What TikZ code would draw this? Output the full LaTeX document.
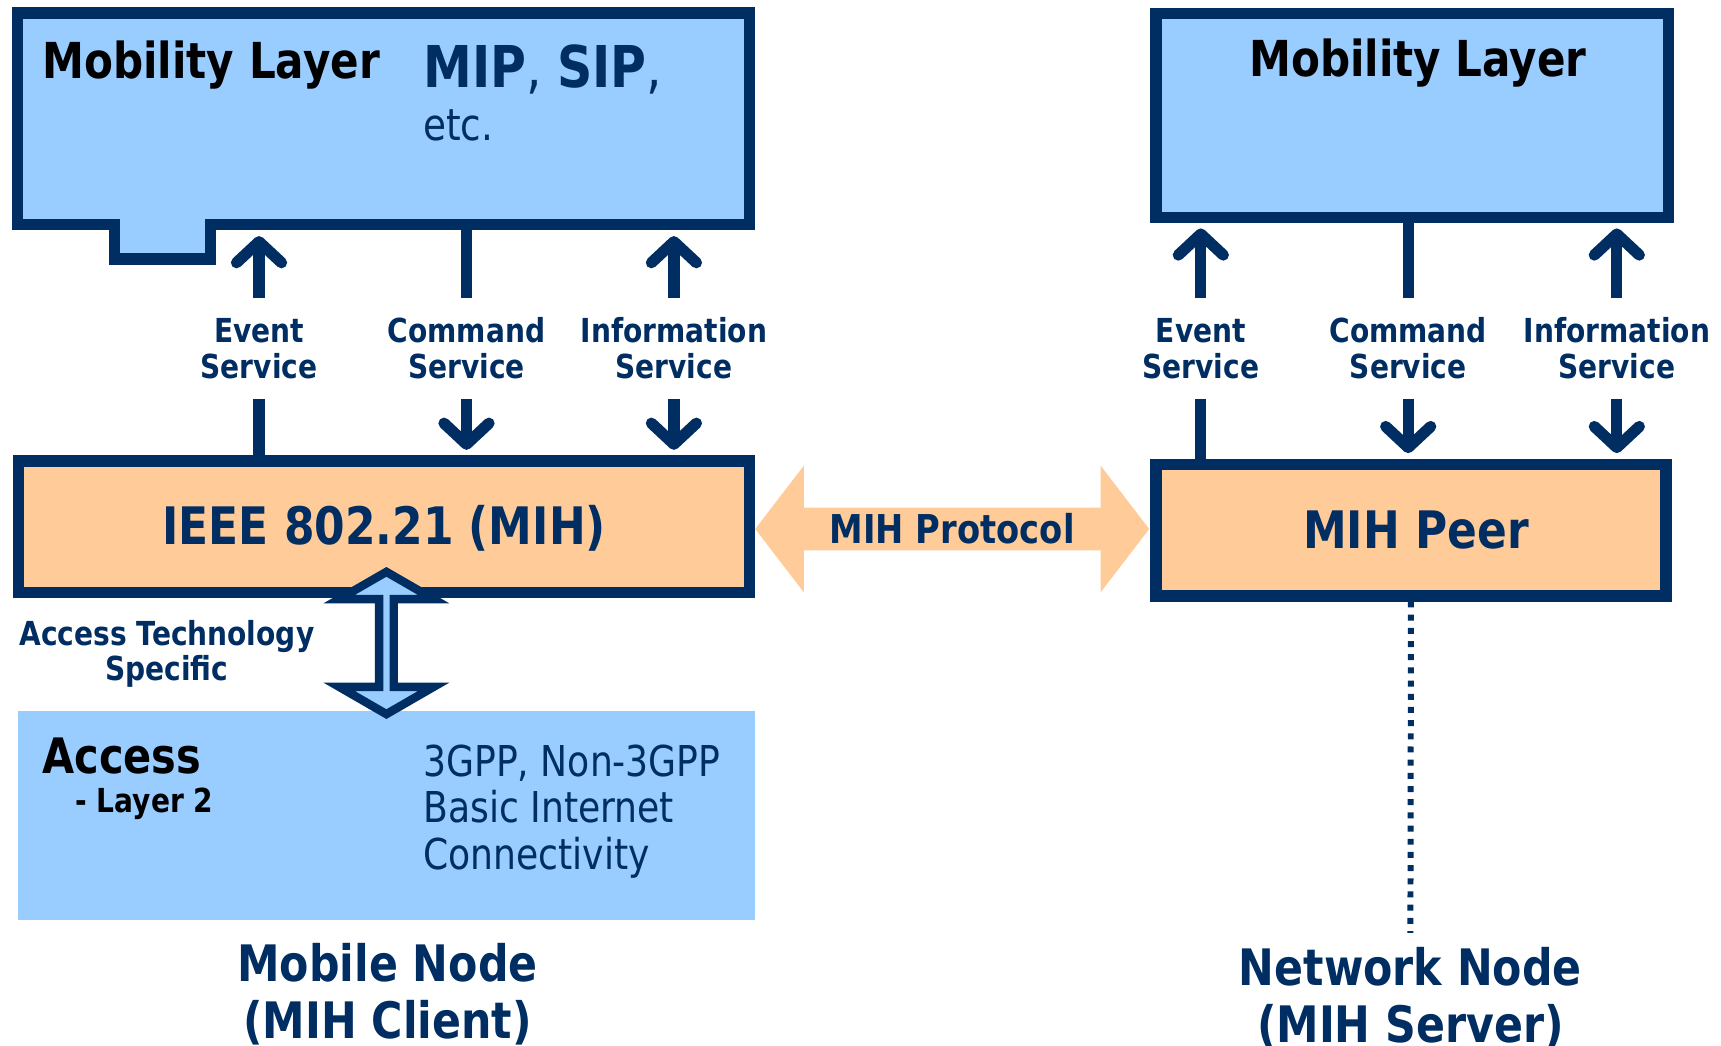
\documentclass[tikz,border=0pt]{standalone}
\usepackage{fontspec}
\setmainfont{DejaVu Sans}[FakeStretch=0.85]
\definecolor{mihnavy}{RGB}{0,45,98}
\definecolor{layerblue}{RGB}{153,204,255}
\definecolor{mihpeach}{RGB}{255,204,153}
\usetikzlibrary{arrows.meta,positioning,shapes.arrows}

\begin{document}
\begin{tikzpicture}[
      layerbox/.style={draw=mihnavy, line width=3.2pt, fill=layerblue, inner sep=0pt},
      mihbox/.style={draw=mihnavy, line width=3.2pt, fill=mihpeach, inner sep=0pt,
                     text=mihnavy, font=\fontsize{14.7}{17}\selectfont\bfseries},
      svc/.style={text=mihnavy, align=center, inner sep=0pt, minimum height=0.988cm,
                  font=\fontsize{9.4}{10.3}\selectfont\bfseries},
      stem/.style={draw=mihnavy, line width=3.2pt},
      arr/.style={stem, -{Straight Barb[length=2.1mm, width=4.5mm, round]}, shorten >=1.6pt},
      dotline/.style={draw=mihnavy, line width=1.7pt, dash pattern=on 1.7pt off 2.05pt},
      title/.style={text=mihnavy, align=center, inner sep=0pt,
                    font=\fontsize{14.3}{16.2}\selectfont\bfseries}
    ]
    \useasboundingbox (0,0) rectangle (17.21,-10.46);

    % mobile node (client) side
    \node[layerbox, minimum width=7.319cm, minimum height=2.119cm] (mlL) at (3.836,-1.189) {};
    \draw[stem, fill=layerblue] (1.1426,-2.19) -- (1.1426,-2.589) -- (2.106,-2.589) -- (2.106,-2.19);
    \node[anchor=base west, inner sep=0pt, font=\fontsize{14.1}{17}\selectfont\bfseries]
      (mlLtxt) at (0.417,-0.790) {Mobility Layer};
    \node[anchor=base west, inner sep=0pt, text=mihnavy, font=\fontsize{16.4}{19}\selectfont]
      (mip) at (4.226,-0.878) {{\bfseries MIP}, {\bfseries SIP},};
    \node[anchor=base west, inner sep=0pt, text=mihnavy, font=\fontsize{12.5}{15}\selectfont]
      (etc) at (4.226,-1.405) {etc.};

    \node[svc] (evL) at (2.590,-3.485) {Event\\Service};
    \node[svc] (cmL) at (4.665,-3.485) {Command\\Service};
    \node[svc] (inL) at (6.739,-3.485) {Information\\Service};

    \node[mihbox, minimum width=7.308cm, minimum height=1.315cm, text depth=0.9pt] (mih) at (3.8416,-5.2685) {IEEE 802.21 (MIH)};

    \draw[arr] (evL.north) -- (evL.north |- mlL.south);
    \draw[stem] (cmL.north) -- (cmL.north |- mlL.south);
    \draw[arr] (inL.north) -- (inL.north |- mlL.south);
    \draw[stem] (evL.south) -- (evL.south |- mih.north);
    \draw[arr] (cmL.south) -- (cmL.south |- mih.north);
    \draw[arr] (inL.south) -- (inL.south |- mih.north);

    \node[fill=layerblue, minimum width=7.375cm, minimum height=2.086cm, inner sep=0pt] (acc) at (3.8635,-8.155) {};
    \node[anchor=base west, inner sep=0pt, font=\fontsize{13.9}{16}\selectfont\bfseries]
      (acctxt) at (0.417,-7.738) {Access};
    \node[anchor=base west, inner sep=0pt, font=\fontsize{9.4}{11}\selectfont\bfseries]
      (l2) at (0.746,-8.122) {- Layer 2};
    \node[anchor=north west, inner sep=0pt, align=left, text=mihnavy, font=\fontsize{12.1}{13.2}\selectfont]
      (gpp) at (4.226,-7.44) {3GPP, Non-3GPP\\Basic Internet\\Connectivity};

    \node[double arrow, rotate=90, draw=mihnavy, fill=layerblue, line width=2.4pt, inner sep=0pt,
          minimum height=1.4225cm, minimum width=0.944cm,
          double arrow head extend=0.228cm, double arrow tip angle=120] (acct) at (3.864,-6.430) {};
    \node[anchor=north, svc, minimum height=0pt, font=\fontsize{9.4}{10}\selectfont\bfseries]
      (accspec) at (1.668,-6.20) {Access Technology\\Specific};

    \node[title, anchor=north] (mn) at (3.875,-9.423) {Mobile Node\\(MIH Client)};

    % MIH protocol between the two
    \node[double arrow, fill=mihpeach, inner sep=0pt, text=mihnavy,
          minimum height=3.940cm, minimum width=1.267cm,
          double arrow head extend=0.315cm, double arrow tip angle=105,
          font=\fontsize{11.3}{13}\selectfont\bfseries] (proto) at (9.522,-5.29) {MIH Protocol};

    % network node (server) side
    \node[layerbox, minimum width=5.123cm, minimum height=2.039cm] (mlR) at (14.1205,-1.1524) {};
    \node[anchor=base, inner sep=0pt, font=\fontsize{14.1}{17}\selectfont\bfseries]
      (mlRtxt) at (14.18,-0.768) {Mobility Layer};

    \node[svc] (evR) at (12.008,-3.485) {Event\\Service};
    \node[svc] (cmR) at (14.082,-3.485) {Command\\Service};
    \node[svc] (inR) at (16.168,-3.485) {Information\\Service};

    \node[mihbox, minimum width=5.101cm, minimum height=1.315cm, text depth=0pt] (peer) at (14.1095,-5.3015) {\hspace{0.1cm}MIH Peer};

    \draw[arr] (evR.north) -- (evR.north |- mlR.south);
    \draw[stem] (cmR.north) -- (cmR.north |- mlR.south);
    \draw[arr] (inR.north) -- (inR.north |- mlR.south);
    \draw[stem] (evR.south) -- (evR.south |- peer.north);
    \draw[arr] (cmR.south) -- (cmR.south |- peer.north);
    \draw[arr] (inR.south) -- (inR.south |- peer.north);

    \node[title, anchor=north] (nn) at (14.104,-9.467) {Network Node\\(MIH Server)};
    \draw[dotline] (peer.south) -- ([yshift=3.9pt]nn.north);
  \end{tikzpicture}
\end{document}
